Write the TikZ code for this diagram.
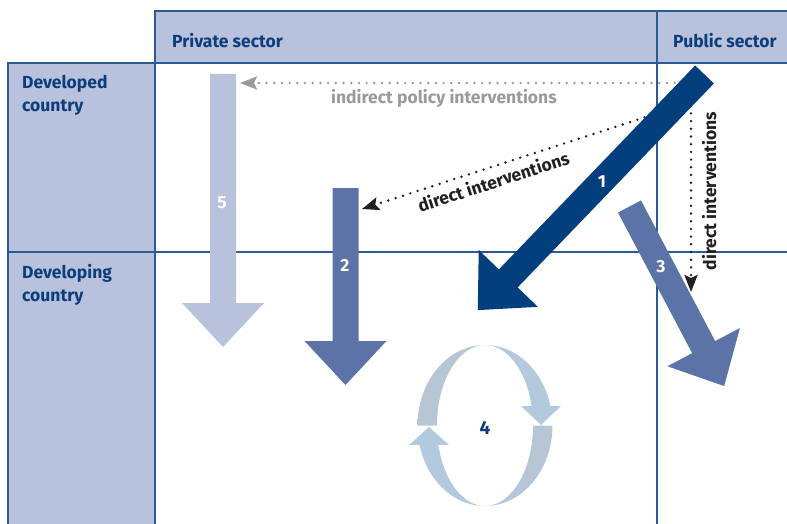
\documentclass[tikz,border=0pt]{standalone}
\usepackage{fontspec}
\setmainfont{Fira Sans}
\usetikzlibrary{arrows.meta}

\definecolor{bandfill}{HTML}{B9C2DC}
\definecolor{gridline}{HTML}{2B5A94}
\definecolor{headtext}{HTML}{0C3E7B}
\definecolor{navy}{HTML}{033F7D}
\definecolor{midblue}{HTML}{5B73A7}
\definecolor{paleblue}{HTML}{B9C2DC}
\definecolor{cyclehead}{HTML}{B2CAE0}
\definecolor{cycletail}{HTML}{B7C5D4}
\definecolor{dotgray}{HTML}{9A9A9A}
\definecolor{inkblack}{HTML}{231F20}

% block arrow: colour, tail x, tail y, direction (degrees), length
\newcommand\blockarrow[5]{%
  \fill[#1, shift={(#2,#3)}, rotate=#4]
    (0,-13) -- ({#5-44},-13) -- ({#5-44},-41) -- (#5,0)
    -- ({#5-44},41) -- ({#5-44},13) -- (0,13) -- cycle;}

\tikzset{
  rowhead/.style={font=\bfseries\fontsize{17.5}{23}\selectfont, text=headtext, inner sep=0pt, align=left},
  flowlabel/.style={font=\bfseries\fontsize{17.5}{20}\selectfont, inner sep=0pt},
  numlabel/.style={font=\bfseries\fontsize{17.5}{20}\selectfont, text=white, inner sep=0pt},
  dotline/.style={line width=2.7pt, line cap=round, dash pattern=on 0pt off 7.7pt},
  gridrule/.style={draw=gridline, line width=1.3pt},
  tip/.style={-{Stealth[length=17pt, width=13pt, inset=3pt]}}
}

\begin{document}
\begin{tikzpicture}[x=1pt, y=-1pt]
  \useasboundingbox (0,0) rectangle (787,524);

  % header band and row column
  \fill[bandfill] (155,11) rectangle (787,63);
  \fill[bandfill] (8,63) rectangle (155,524);

  % grid rules
  \draw[gridrule] (155,524) -- (155,11) -- (787,11);
  \draw[gridrule] (8,524) -- (8,63) -- (787,63);
  \draw[gridrule] (8,252) -- (787,252);
  \draw[gridrule] (657,11) -- (657,524);

  % headings
  \node[rowhead, anchor=base west] (private) at (172,48) {Private sector};
  \node[rowhead, anchor=base west] (public) at (673,48) {Public sector};
  \node[rowhead, anchor=north west] (developed) at (22,75) {Developed\\country};
  \node[rowhead, anchor=north west] (developing) at (22,264) {Developing\\country};

  % dotted intervention arrows
  \coordinate (indirectFrom) at (690,83);
  \coordinate (indirectTo) at (240,83);
  \coordinate (directFrom) at (652,115);
  \coordinate (directTo) at (362,209);
  \coordinate (publicFrom) at (691,98);
  \coordinate (publicTo) at (691,292);
  \draw[dotline, dotgray, tip] (indirectFrom) -- (indirectTo);
  \draw[dotline, inkblack, tip] (directFrom) -- (directTo);
  \draw[dotline, inkblack, tip] (publicFrom) -- (publicTo);

  \node[flowlabel, text=dotgray, anchor=base west] (indirectText) at (331,104) {indirect policy interventions};
  \node[flowlabel, text=inkblack, anchor=base, rotate=18] (directText) at (495.5,188) {direct interventions};
  \node[flowlabel, text=inkblack, anchor=base, rotate=90] (publicText) at (716,191) {direct interventions};

  % flows
  \blockarrow{paleblue}{223}{74}{-90}{273}
  \blockarrow{midblue}{345.5}{188}{-90}{197}
  \blockarrow{midblue}{629.5}{206.5}{-62.2}{203}
  \blockarrow{navy}{704.5}{74.5}{-133.9}{327}

  \node[numlabel] (n5) at (222,203) {5};
  \node[numlabel] (n2) at (345,265) {2};
  \node[numlabel] (n3) at (661,267) {3};
  \node[numlabel] (n1) at (602,182) {1};

  % exchange cycle
  \shade[left color=cycletail, right color=cyclehead]
    (417.5,425.5)
    -- plot[domain=180:346, samples=60, variable=\t] ({485+67.5*cos(\t)},{425.5+80.5*sin(\t)})
    -- (561,406) -- (541,425) -- (521,406)
    -- plot[domain=346:180, samples=60, variable=\t] ({485+48*cos(\t)},{425.5+80.5*sin(\t)})
    -- cycle;
  \shade[left color=cyclehead, right color=cycletail]
    (552.5,425.5)
    -- plot[domain=0:166, samples=60, variable=\t] ({485+67.5*cos(\t)},{425.5+80.5*sin(\t)})
    -- (409,445) -- (429,427) -- (449,445)
    -- plot[domain=166:0, samples=60, variable=\t] ({485+48*cos(\t)},{425.5+80.5*sin(\t)})
    -- cycle;
  \node[numlabel, text=headtext, font=\bfseries\fontsize{19}{22}\selectfont] (n4) at (485,428) {4};
\end{tikzpicture}
\end{document}
